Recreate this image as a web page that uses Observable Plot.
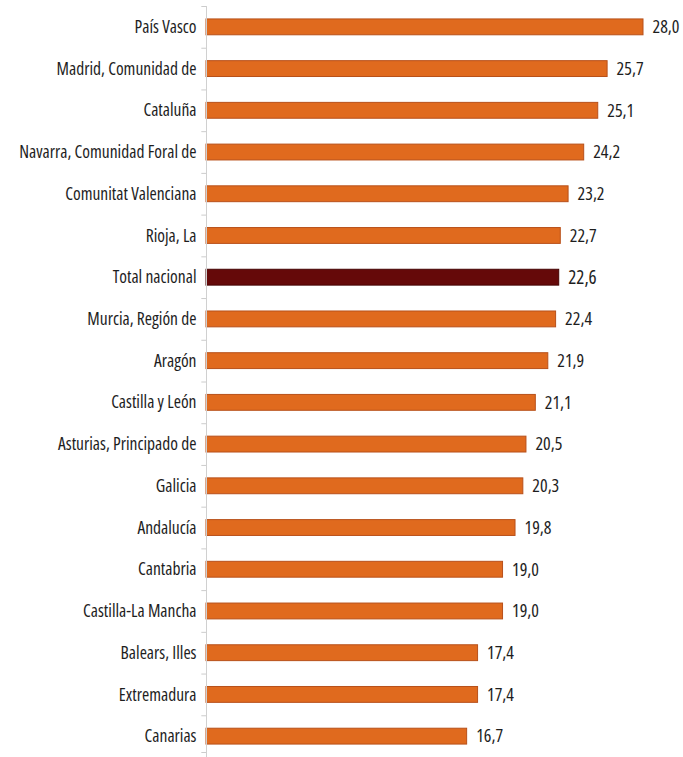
<!DOCTYPE html>
<html><head><meta charset="utf-8">
<script src="https://cdn.jsdelivr.net/npm/d3@7"></script>
<script src="https://cdn.jsdelivr.net/npm/@observablehq/plot@0.6"></script>
<style>
body{margin:0;background:#fff;}
svg text{font-stretch:condensed;}
</style></head>
<body><div id="chart"></div>
<script>
const regions = ["País Vasco","Madrid, Comunidad de","Cataluña","Navarra, Comunidad Foral de","Comunitat Valenciana","Rioja, La","Total nacional","Murcia, Región de","Aragón","Castilla y León","Asturias, Principado de","Galicia","Andalucía","Cantabria","Castilla-La Mancha","Balears, Illes","Extremadura","Canarias"];
const values = [28.0,25.7,25.1,24.2,23.2,22.7,22.6,22.4,21.9,21.1,20.5,20.3,19.8,19.0,19.0,17.4,17.4,16.7];
const highlight = "Total nacional";

const data = regions.map((r,i)=>({region:r, value:values[i], total:r===highlight}));
const fmt = v => v.toFixed(1).replace(".", ",");
const H = 757, mt = 6, mb = 0;
const step = (H-mt-mb)/regions.length;

const chart = Plot.plot({
  width: 683, height: H,
  marginLeft: 206, marginRight: 40, marginTop: mt, marginBottom: mb,
  style: {fontSize: "17.5px", color: "#1e1e1e", background: "#fff", fontFamily: "'Open Sans',sans-serif", fontStretch: "condensed"},
  x: {domain: [0, 28], axis: null},
  y: {domain: regions, round: false, paddingInner: 0.62, paddingOuter: 0.31, label: null, tickSize: 0, tickPadding: 10},
  marks: [
    Plot.ruleY(regions, {y: d=>d, x1: -0.3, x2: 0, dy: -step/2, stroke: "#ccc"}),
    Plot.ruleY(regions.slice(-1), {y: d=>d, x1: -0.3, x2: 0, dy: step/2 - 5, stroke: "#ccc"}),
    Plot.barX(data, {y: "region", x: "value", fill: d=>d.total ? "#650909" : "#e06a1e", stroke: d=>d.total ? "#450404" : "#b8501a", strokeWidth: 1}),
    Plot.ruleX([0], {stroke: "#d0d0d0"}),
    Plot.text(data, {y: "region", x: "value", text: d=>fmt(d.value), dx: 9, textAnchor: "start", fontSize: d=>d.total?19:18, fill: "#1e1e1e"})
  ]
});
document.getElementById("chart").append(chart);
</script></body></html>
